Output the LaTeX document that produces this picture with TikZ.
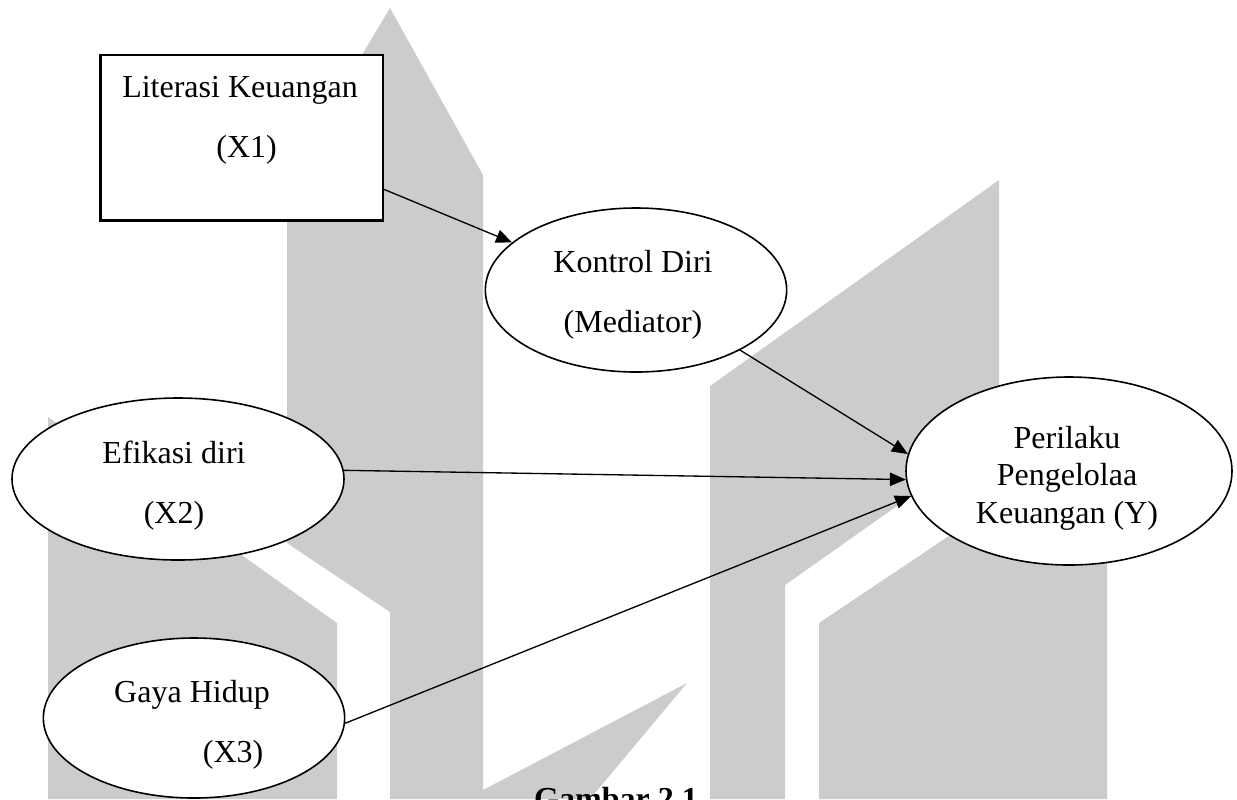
\documentclass[tikz,border=0pt]{standalone}
\usepackage{fontspec}
\setmainfont{Liberation Serif}
\usepackage{tikz}
\usetikzlibrary{arrows.meta}
\usetikzlibrary{shapes.geometric}

\definecolor{wmgray}{RGB}{204,204,204}

\begin{document}
\begin{tikzpicture}[x=0.375pt,y=-0.375pt,
  wm/.style={fill=wmgray, draw=none},
  varbox/.style={draw, line width=1pt, fill=white, inner sep=0pt, minimum width=106pt, minimum height=62pt},
  varell/.style={ellipse, draw, line width=0.6pt, fill=white, inner sep=0pt},
  labeltxt/.style={align=center, font=\fontsize{12}{14}\selectfont},
  arrowline/.style={-{Triangle[length=6pt,width=5pt]}, line width=0.5pt}]
\clip (0,0) rectangle (1237,799);
%%% Draws watermark
\fill[wm] (287,180) -- (390,8) -- (390,612) -- (287,543) -- cycle;
\fill[wm] (390,8) -- (483,175) -- (483,790) -- (687,683) -- (590,799) -- (390,799) -- cycle;
\fill[wm] (48,417) -- (337,623) -- (337,799) -- (48,799) -- cycle;
\fill[wm] (710,386) -- (999,180) -- (999,434) -- (785,585) -- (785,799) -- (710,799) -- cycle;
\fill[wm] (819,623) -- (1107,430) -- (1107,799) -- (819,799) -- cycle;
%%% Draws model
% draws variables
\node[varbox] (lit) at (241.5,137.5) {};
\node[varell, minimum width=113pt, minimum height=61.5pt] (kon) at (636,290) {};
\node[varell, minimum width=124.5pt, minimum height=60.75pt] (efi) at (178,479) {};
\node[varell, minimum width=113pt, minimum height=60pt] (gaya) at (194,718) {};
\node[varell, minimum width=122.25pt, minimum height=70.5pt] (per) at (1069,471) {};
% label variables
\node[labeltxt] (littxt) at (240,120) {Literasi Keuangan\\[8.5pt]\hspace*{5pt}(X1)};
\node[labeltxt] (kontxt) at (633,295) {Kontrol Diri\\[8.5pt](Mediator)};
\node[labeltxt] (efitxt) at (174,486) {Efikasi diri\\[8.5pt](X2)};
\node[labeltxt] (gayatxt) at (192,725) {Gaya Hidup\\[8.5pt]\hspace*{30.8pt}(X3)};
\node[labeltxt] (pertxt) at (1067,478) {Perilaku\\Pengelolaa\\Keuangan (Y)};
% draws paths
\draw[arrowline] (lit.-20) to (kon.159);
\draw[arrowline] (kon.-30) to (per.174);
\draw[arrowline] (efi.3) to (per.183);
\draw[arrowline] (gaya.-2) to (per.189);
% caption
\node[font=\bfseries\fontsize{12}{14}\selectfont, anchor=base] (caption) at (616,809) {Gambar 2.1};
\end{tikzpicture}
\end{document}
